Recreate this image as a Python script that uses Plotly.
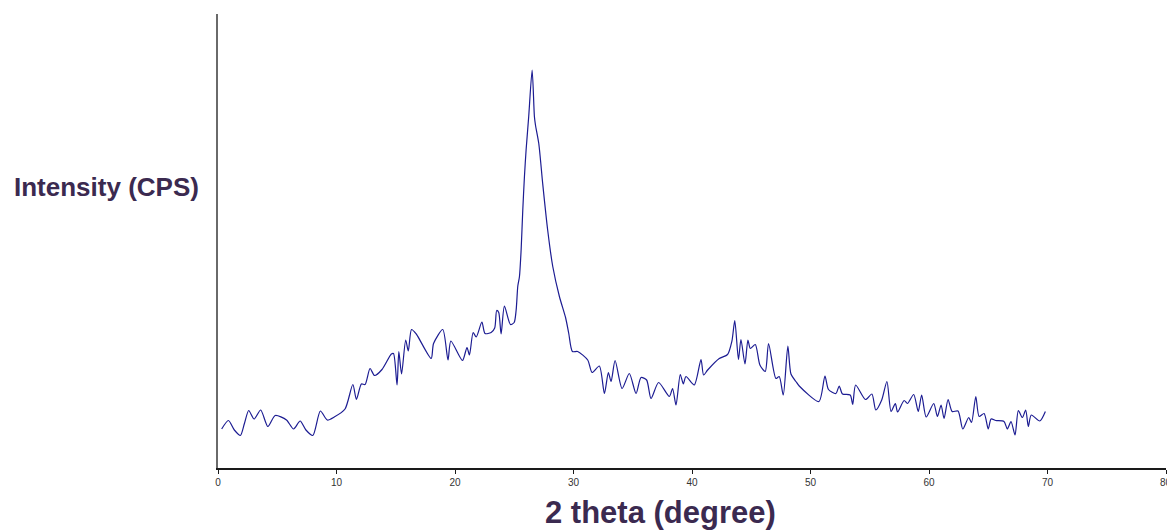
import plotly.graph_objects as go

# 2-theta angles (degree)
theta = [0.31, 0.88, 1.38, 1.89, 2.23, 2.59, 3.05, 3.60, 4.21, 4.83, 5.78, 6.38, 6.93, 7.42, 8.00,
         8.64, 9.22, 9.81, 10.72, 11.38, 11.68, 12.10, 12.41, 12.83, 13.21, 13.84, 14.63, 14.81,
         15.11, 15.26, 15.49, 15.84, 16.06, 16.33, 16.73, 17.99, 18.19, 18.97, 19.41, 19.65, 20.63,
         21.01, 21.22, 21.53, 21.79, 22.27, 22.53, 23.05, 23.35, 23.52, 23.69, 23.89, 24.17, 24.68,
         24.99, 25.16, 25.30, 25.44, 25.58, 25.72, 25.86, 26.00, 26.22, 26.51, 26.70, 26.79, 27.07,
         27.40, 27.82, 28.25, 28.81, 29.34, 29.60, 29.91, 30.35, 31.20, 31.57, 32.18, 32.61, 32.94,
         33.17, 33.51, 34.10, 34.71, 35.28, 35.70, 36.17, 36.54, 37.18, 38.09, 38.36, 38.65, 39.01,
         39.27, 39.49, 40.19, 40.76, 40.98, 41.32, 42.30, 43.00, 43.37, 43.61, 43.92, 44.13, 44.47,
         44.72, 44.92, 45.34, 45.73, 46.18, 46.46, 47.08, 47.36, 47.70, 48.09, 48.35, 48.77, 49.05,
         50.71, 51.22, 51.52, 52.14, 52.42, 52.70, 53.35, 53.56, 53.81, 54.64, 55.18, 55.51, 56.01,
         56.45, 56.80, 57.16, 57.35, 57.90, 58.18, 58.71, 59.09, 59.38, 59.76, 60.40, 60.71, 61.02,
         61.27, 61.61, 61.95, 62.45, 62.85, 63.35, 63.59, 63.95, 64.23, 64.65, 65.00, 65.24, 65.63,
         66.33, 66.61, 66.92, 67.26, 67.54, 67.88, 68.16, 68.38, 68.63, 69.35, 69.82]

# intensity (CPS)
intensity = [78, 95, 76, 65, 89, 115, 98, 116, 83, 105, 96, 78, 94, 76, 65,
             114, 96, 102, 118, 167, 137, 168, 167, 199, 185, 197, 228, 229,
             166, 233, 188, 256, 234, 277, 268, 219, 249, 277, 216, 254, 215,
             241, 226, 271, 262, 292, 269, 271, 280, 315, 311, 268, 324, 287,
             291, 316, 364, 383, 436, 516, 583, 636, 703, 796, 703, 686, 649,
             569, 476, 403, 343, 300, 269, 233, 233, 216, 191, 204, 149, 191,
             173, 215, 159, 189, 149, 181, 176, 139, 171, 143, 159, 126, 187,
             168, 183, 166, 217, 186, 196, 219, 227, 254, 295, 217, 257, 208,
             256, 239, 247, 206, 193, 249, 179, 183, 146, 244, 188, 173, 164,
             133, 184, 157, 149, 164, 148, 146, 127, 166, 137, 148, 116, 136,
             173, 113, 129, 112, 135, 129, 147, 113, 146, 102, 129, 103, 126,
             99, 137, 113, 114, 78, 101, 91, 143, 103, 109, 78, 98, 95,
             93, 78, 93, 66, 115, 101, 116, 83, 106, 94, 113]

x_ticks = [0, 10, 20, 30, 40, 50, 60, 70, 80]
x_tick_labels = ["0", "10", "20", "30", "40", "50", "60", "70", "80"]

fig = go.Figure()
fig.add_trace(go.Scatter(
    x=theta, y=intensity, mode="lines",
    line=dict(color="#1c1c92", width=1.2, shape="spline", smoothing=0.7),
    hoverinfo="x+y", showlegend=False,
))

title_color = "#3b2a50"
fam = "Arial, Liberation Sans, sans-serif"
# last tick label sits on the right edge: draw it as text so it shows (clipped) like the reference
shown_labels = x_tick_labels[:-1] + [""]
fig.update_layout(
    width=1167, height=530,
    margin=dict(l=218, r=1, t=14, b=62),
    paper_bgcolor="white", plot_bgcolor="white",
    font=dict(family=fam, color="#333333"),
    xaxis=dict(
        range=[0, 80], tickvals=x_ticks, ticktext=shown_labels,
        showgrid=False, zeroline=False,
        showline=True, linecolor="#1a1a1a", linewidth=1.5,
        ticks="outside", ticklen=4, tickcolor="#1a1a1a", tickwidth=1,
        tickfont=dict(size=10, color="#333333"),
    ),
    yaxis=dict(
        range=[0, 908], showgrid=False, zeroline=False,
        showline=True, linecolor="#6a6a6a", linewidth=1.7,
        showticklabels=False, ticks="",
    ),
    annotations=[
        dict(text="<b>2 theta (degree)</b>", xref="paper", yref="paper",
             x=(660 - 218) / 948, y=(468 - 512) / 454, xanchor="center", yanchor="middle",
             showarrow=False, font=dict(size=31, color=title_color, family=fam)),
        dict(text="<b>Intensity (CPS)</b>", xref="paper", yref="paper",
             x=(106 - 218) / 948, y=(468 - 187) / 454, xanchor="center", yanchor="middle",
             showarrow=False, font=dict(size=26, color=title_color, family=fam)),
        dict(text=x_tick_labels[-1], xref="x", yref="paper",
             x=x_ticks[-1], y=(468 - 483) / 454, xanchor="center", yanchor="middle",
             showarrow=False, font=dict(size=10, color="#333333", family=fam)),
    ],
)

fig.write_html(
    "out.html",
    config={"displayModeBar": False},
    post_script="document.body.style.margin='0';document.body.style.overflow='hidden';",
)
